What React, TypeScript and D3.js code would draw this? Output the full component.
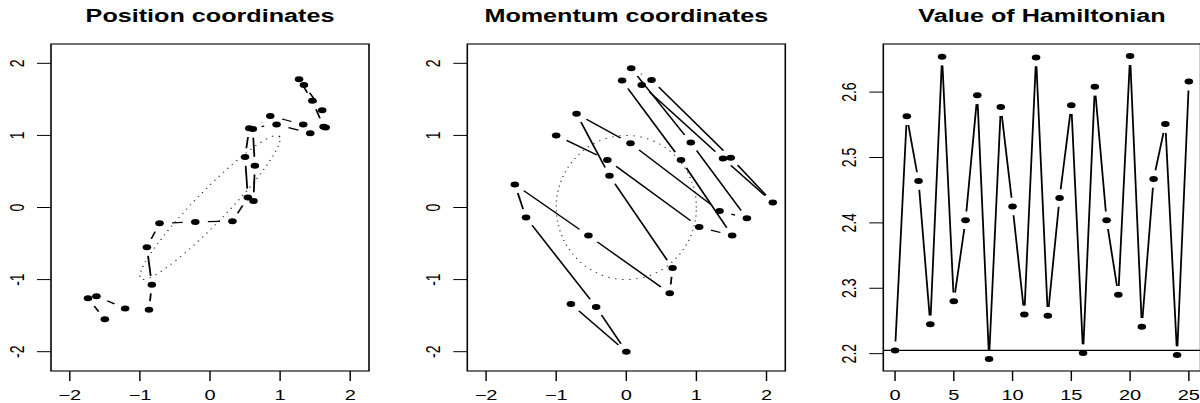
import React from "react";
import * as d3 from "d3";

// the picture is stretched sideways, so everything is drawn in a narrower
// frame and widened by S
const S = 1.43;
const W = 1200;
const H = 403;

// positions along the trajectory (26 states)
const posX = [-1.5, -1.74, -1.62, -1.21, -0.87, -0.83, -0.9, -0.72, -0.21, 0.32, 0.54, 0.5, 0.56,
  0.95, 1.43, 1.62, 1.46, 1.27, 1.34, 1.6, 1.65, 1.33, 0.86, 0.61, 0.64, 0.62];
const posY = [-1.55, -1.26, -1.23, -1.4, -1.42, -1.07, -0.55, -0.22, -0.2, -0.19, 0.14, 0.7, 1.1,
  1.15, 1.03, 1.12, 1.48, 1.78, 1.7, 1.35, 1.11, 1.15, 1.27, 1.09, 0.58, 0.09];

// momenta along the trajectory
const momX = [-1.0, -0.27, 1.04, 1.51, 0.78, -0.06, 0.22, 1.38, 2.09, 1.49, 0.36, 0.07, 0.92,
  1.72, 1.33, 0.06, -0.71, -0.24, 0.66, 0.62, -0.54, -1.59, -1.43, -0.43, 0.0, -0.79];
const momY = [1.0, 0.66, -0.27, -0.39, 0.66, 1.76, 1.7, 0.68, 0.07, 0.69, 1.77, 1.93, 0.9,
  -0.15, -0.05, 0.89, 1.3, 0.44, -0.84, -1.19, -0.39, 0.32, -0.14, -1.38, -2.0, -1.34];

// value of H after each leapfrog step
const hamiltonian = [2.205, 2.563, 2.464, 2.245, 2.654, 2.28, 2.404, 2.595, 2.192, 2.577, 2.425,
  2.26, 2.653, 2.258, 2.438, 2.58, 2.201, 2.608, 2.404, 2.29, 2.655, 2.241, 2.467, 2.551, 2.198,
  2.616];

const phaseTicks = [-2, -1, 0, 1, 2];
const stepTicks = [0, 5, 10, 15, 20, 25];
const energyTicks = [2.2, 2.3, 2.4, 2.5, 2.6];
const phaseLim = [-2.1, 2.1];

const rho = 0.95; // correlation of the target distribution
const momentumRadius = 1;

const FONT = "'Liberation Sans', Arial, Helvetica, sans-serif";
const GAP = 8.8;

// R's default 4% padding
function pad(lim) {
  const d = (lim[1] - lim[0]) * 0.04;
  return [lim[0] - d, lim[1] + d];
}

// type = "b": segments with a gap around each point
function gappedSegments(pts) {
  const out = [];
  for (let i = 1; i < pts.length; i++) {
    const [x1, y1] = pts[i - 1];
    const [x2, y2] = pts[i];
    const dx = x2 - x1,
      dy = y2 - y1;
    const len = Math.sqrt(dx * dx + dy * dy);
    if (len <= 2 * GAP) continue;
    const ux = dx / len,
      uy = dy / len;
    out.push([x1 + ux * GAP, y1 + uy * GAP, x2 - ux * GAP, y2 - uy * GAP]);
  }
  return out;
}

function Panel(props) {
  const { left, right, title, xDomain, yDomain, xTicks, yTicks, xs, ys, contour, hline, fmtY, id } =
    props;
  const top = 44,
    bottom = 371;
  const x = d3.scaleLinear().domain(xDomain).range([left / S, right / S]);
  const y = d3.scaleLinear().domain(yDomain).range([bottom, top]);
  const pts = xs.map((v, i) => [x(v), y(ys[i])]);
  const segs = gappedSegments(pts);
  const line = d3
    .line()
    .x((d) => x(d[0]))
    .y((d) => y(d[1]));
  const l = left / S,
    r = right / S;
  const cx = (l + r) / 2;

  return (
    <g>
      <defs>
        <clipPath id={id}>
          <rect x={l} y={top} width={r - l} height={bottom - top} />
        </clipPath>
      </defs>
      <text x={cx} y={22} textAnchor="middle" fontFamily={FONT} fontWeight="bold" fontSize={17.6}>
        {title}
      </text>
      <g clipPath={`url(#${id})`}>
        {contour && (
          <path d={line(contour)} fill="none" stroke="#333" strokeWidth={1} strokeDasharray="1 4" />
        )}
        {hline !== undefined && (
          <line x1={l} x2={r} y1={y(hline)} y2={y(hline)} stroke="#000" strokeWidth={1.1} />
        )}
        {segs.map((s, i) => (
          <line key={i} x1={s[0]} y1={s[1]} x2={s[2]} y2={s[3]} stroke="#000" strokeWidth={1.25} />
        ))}
        {pts.map((p, i) => (
          <circle key={i} cx={p[0]} cy={p[1]} r={3} fill="#000" />
        ))}
      </g>
      <rect x={l} y={top} width={r - l} height={bottom - top} fill="none" stroke="#000" strokeWidth={1.1} />
      {xTicks.map((t) => (
        <g key={"x" + t}>
          <line x1={x(t)} x2={x(t)} y1={bottom} y2={bottom + 10} stroke="#000" strokeWidth={1} />
          <text x={x(t)} y={400} textAnchor="middle" fontFamily={FONT} fontSize={14}>
            {String(t).replace("-", "\u2212")}
          </text>
        </g>
      ))}
      {yTicks.map((t) => (
        <g key={"y" + t}>
          <line x1={l - 9.8} x2={l} y1={y(t)} y2={y(t)} stroke="#000" strokeWidth={1} />
          <text
            transform={`translate(${l - 19},${y(t)}) rotate(-90)`}
            textAnchor="middle"
            fontFamily={FONT}
            fontSize={14}
          >
            {fmtY ? fmtY(t) : String(t)}
          </text>
        </g>
      ))}
    </g>
  );
}

export default function App() {
  const steps = hamiltonian.map((_, i) => i);

  // contour of the target density and the momentum circle
  const a = Math.sqrt(1 + rho),
    b = Math.sqrt(1 - rho);
  const angles = d3.range(0, 2 * Math.PI + 0.001, Math.PI / 90);
  const ellipse = angles.map((t) => [
    (a * Math.cos(t) + b * Math.sin(t)) / Math.SQRT2,
    (a * Math.cos(t) - b * Math.sin(t)) / Math.SQRT2,
  ]);
  const circle = angles.map((t) => [momentumRadius * Math.cos(t), momentumRadius * Math.sin(t)]);

  const phaseDomain = pad(phaseLim);
  const stepDomain = pad(d3.extent(steps));
  const energyDomain = pad(d3.extent(hamiltonian));

  return (
    <div style={{ position: "absolute", left: 0, top: 0 }}>
      <svg width={W} height={H} style={{ display: "block", background: "#fff" }}>
        <g transform={`scale(${S},1)`}>
          <Panel
            id="c1"
            left={51}
            right={369}
            title="Position coordinates"
            xDomain={phaseDomain}
            yDomain={phaseDomain}
            xTicks={phaseTicks}
            yTicks={phaseTicks}
            xs={posX}
            ys={posY}
            contour={ellipse}
          />
          <Panel
            id="c2"
            left={467.3}
            right={785.3}
            title="Momentum coordinates"
            xDomain={phaseDomain}
            yDomain={phaseDomain}
            xTicks={phaseTicks}
            yTicks={phaseTicks}
            xs={momX}
            ys={momY}
            contour={circle}
          />
          <Panel
            id="c3"
            left={883.3}
            right={1200.6}
            title="Value of Hamiltonian"
            xDomain={stepDomain}
            yDomain={energyDomain}
            xTicks={stepTicks}
            yTicks={energyTicks}
            xs={steps}
            ys={hamiltonian}
            hline={hamiltonian[0]}
            fmtY={(t) => t.toFixed(1)}
          />
        </g>
      </svg>
    </div>
  );
}
